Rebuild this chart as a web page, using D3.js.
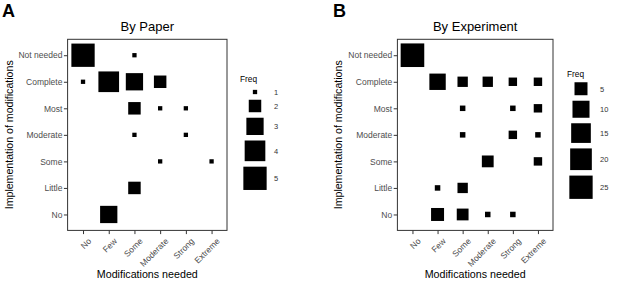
<!DOCTYPE html>
<html>
<head>
<meta charset="utf-8">
<script src="https://cdn.jsdelivr.net/npm/d3@7"></script>
<style>
  body { margin: 0; background: #fff; }
  svg { font-family: "Liberation Sans", Arial, sans-serif; }
  .tick text { fill: #4d4d4d; }
</style>
</head>
<body>
<div id="chart"></div>
<script>
// categories
const needLevels = ['No', 'Few', 'Some', 'Moderate', 'Strong', 'Extreme'];
const implLevels = ['Not needed', 'Complete', 'Most', 'Moderate', 'Some', 'Little', 'No'];

// panel A: counts by paper
const paperImpl = ['Not needed', 'Not needed', 'Complete', 'Complete', 'Complete', 'Complete',
    'Most', 'Most', 'Most', 'Moderate', 'Moderate', 'Some', 'Some', 'Little', 'No'];
const paperNeed = ['No', 'Some', 'No', 'Few', 'Some', 'Moderate',
    'Some', 'Moderate', 'Strong', 'Some', 'Strong', 'Moderate', 'Extreme', 'Some', 'Few'];
const paperFreq = [5, 1, 1, 4, 3, 2, 2, 1, 1, 1, 1, 1, 1, 2, 3];
const paperBreaks = [1, 2, 3, 4, 5];

// panel B: counts by experiment
const expImpl = ['Not needed', 'Complete', 'Complete', 'Complete', 'Complete', 'Complete',
    'Most', 'Most', 'Most', 'Moderate', 'Moderate', 'Moderate', 'Some', 'Some',
    'Little', 'Little', 'No', 'No', 'No', 'No'];
const expNeed = ['No', 'Few', 'Some', 'Moderate', 'Strong', 'Extreme',
    'Some', 'Strong', 'Extreme', 'Some', 'Strong', 'Extreme', 'Moderate', 'Extreme',
    'Few', 'Some', 'Few', 'Some', 'Moderate', 'Strong'];
const expFreq = [26, 9, 3, 3, 2, 2, 1, 1, 2, 1, 2, 1, 4, 2, 1, 3, 5, 4, 1, 1];
const expBreaks = [5, 10, 15, 20, 25];

const svg = d3.select('#chart').append('svg')
    .attr('width', 617)
    .attr('height', 285);

function drawPanel(opt) {
    const g = svg.append('g');
    const x = d3.scalePoint().domain(needLevels).range([opt.left, opt.right]).padding(0.6);
    const y = d3.scalePoint().domain(implLevels).range([39.3, 230.4]).padding(0.6);

    // panel letter + title
    g.append('text')
        .attr('x', opt.letterX).attr('y', 16.5)
        .style('font-size', '18px').style('font-weight', 'bold')
        .text(opt.letter);
    g.append('text')
        .attr('x', (opt.left + opt.right) / 2).attr('y', 31)
        .attr('text-anchor', 'middle')
        .style('font-size', '13px')
        .text(opt.title);

    // axes
    const xa = g.append('g')
        .attr('transform', 'translate(0,230.4)')
        .call(d3.axisBottom(x).tickSize(3.7).tickPadding(0));
    xa.select('.domain').remove();
    xa.selectAll('line').attr('stroke', '#333');
    xa.selectAll('text')
        .style('font-size', '8.5px')
        .attr('text-anchor', 'end')
        .attr('y', 0).attr('dy', '0.72em')
        .attr('transform', 'translate(4,7) rotate(-45)');

    const ya = g.append('g')
        .attr('transform', `translate(${opt.left},0)`)
        .call(d3.axisLeft(y).tickSize(3.7).tickPadding(1.5));
    ya.select('.domain').remove();
    ya.selectAll('line').attr('stroke', '#333');
    ya.selectAll('text').style('font-size', '8.5px');

    // squares
    const cells = opt.freq.map((f, i) => ({ impl: opt.impl[i], need: opt.need[i], freq: f }));
    g.selectAll('rect.cell')
        .data(cells)
        .enter()
        .append('rect')
        .attr('class', 'cell')
        .attr('x', d => x(d.need) - opt.size(d.freq) / 2)
        .attr('y', d => y(d.impl) - opt.size(d.freq) / 2)
        .attr('width', d => opt.size(d.freq))
        .attr('height', d => opt.size(d.freq))
        .attr('fill', '#000');

    // panel border
    g.append('rect')
        .attr('x', opt.left).attr('y', 39.3)
        .attr('width', opt.right - opt.left).attr('height', 230.4 - 39.3)
        .attr('fill', 'none')
        .attr('stroke', '#333')
        .attr('stroke-width', 1);

    // axis titles
    g.append('text')
        .attr('x', (opt.left + opt.right) / 2).attr('y', 278)
        .attr('text-anchor', 'middle')
        .style('font-size', '10.7px')
        .text('Modifications needed');
    g.append('text')
        .attr('transform', `translate(${opt.yTitleX},134.8) rotate(-90)`)
        .attr('text-anchor', 'middle')
        .style('font-size', '10.6px')
        .text('Implementation of modifications');

    // legend
    const lg = g.append('g');
    lg.append('text')
        .attr('x', opt.legX).attr('y', opt.legTitleY)
        .style('font-size', '8.3px')
        .text('Freq');
    let top = opt.legTop;
    opt.breaks.forEach(b => {
        const s = opt.size(b);
        const h = Math.max(s + 5.5, 10);
        const cy = top + h / 2;
        lg.append('rect')
            .attr('x', opt.keyX - s / 2).attr('y', cy - s / 2)
            .attr('width', s).attr('height', s)
            .attr('fill', '#000');
        lg.append('text')
            .attr('x', opt.labX).attr('y', cy + 2.8)
            .style('font-size', '7.5px')
            .attr('fill', '#333')
            .text(b);
        top += h;
    });
}

drawPanel({
    letter: 'A', letterX: 2, title: 'By Paper',
    left: 67.6, right: 227, yTitleX: 12.5,
    impl: paperImpl, need: paperNeed, freq: paperFreq,
    size: d3.scaleLog().domain([1, 5]).range([4.3, 23.3]),
    breaks: paperBreaks,
    legX: 240, legTitleY: 82, legTop: 87, keyX: 255, labX: 274
});

drawPanel({
    letter: 'B', letterX: 333, title: 'By Experiment',
    left: 397.4, right: 553, yTitleX: 342,
    impl: expImpl, need: expNeed, freq: expFreq,
    size: d3.scalePow().exponent(0.2).domain([1, 26]).range([5.5, 23.6]),
    breaks: expBreaks,
    legX: 567, legTitleY: 77, legTop: 79.5, keyX: 581, labX: 600
});
</script>
</body>
</html>
